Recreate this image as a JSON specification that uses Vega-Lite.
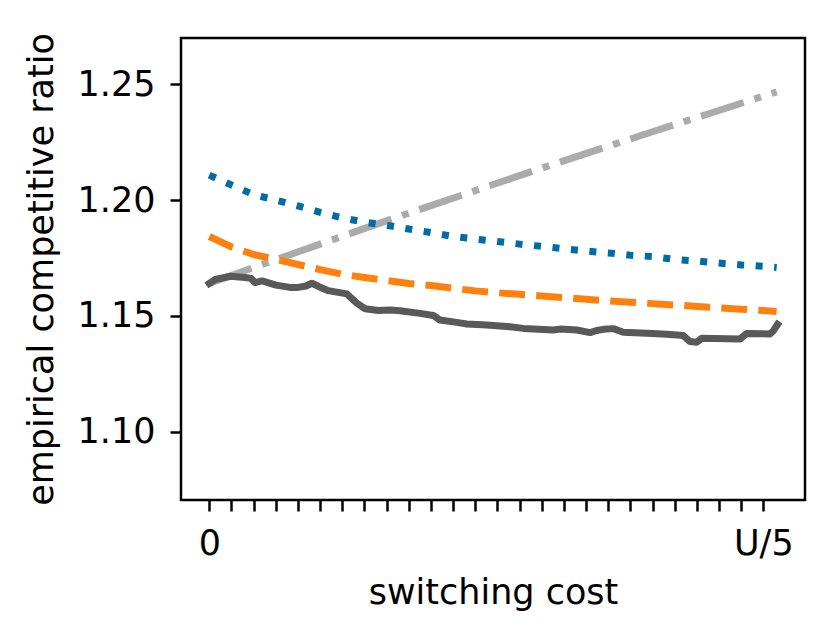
{
  "$schema": "https://vega.github.io/schema/vega-lite/v6.json",
  "width": 624,
  "height": 462,
  "autosize": {"type": "none"},
  "padding": {"left": 181, "top": 38, "right": 27, "bottom": 137},
  "background": "white",
  "config": {
    "view": {"stroke": "black", "strokeWidth": 2.5},
    "font": "DejaVu Sans",
    "axis": {
      "labelFont": "DejaVu Sans",
      "titleFont": "DejaVu Sans",
      "labelFontSize": 35,
      "titleFontSize": 35,
      "titleFontWeight": "normal",
      "labelColor": "black",
      "titleColor": "black",
      "tickColor": "black",
      "tickWidth": 2.5,
      "tickSize": 11,
      "labelPadding": 15,
      "domain": false,
      "grid": false
    }
  },
  "datasets": {
    "lines": [
      {"series": "gray", "x": 0, "y": 1.1640},
      {"series": "gray", "x": 2.5, "y": 1.1726},
      {"series": "gray", "x": 5, "y": 1.1810},
      {"series": "gray", "x": 7.5, "y": 1.1894},
      {"series": "gray", "x": 10, "y": 1.1976},
      {"series": "gray", "x": 12.5, "y": 1.2057},
      {"series": "gray", "x": 15, "y": 1.2138},
      {"series": "gray", "x": 17.5, "y": 1.2217},
      {"series": "gray", "x": 20, "y": 1.2295},
      {"series": "gray", "x": 22.5, "y": 1.2372},
      {"series": "gray", "x": 25, "y": 1.2449},
      {"series": "gray", "x": 25.6, "y": 1.2467},

      {"series": "blue", "x": 0, "y": 1.2108},
      {"series": "blue", "x": 1, "y": 1.2065},
      {"series": "blue", "x": 2, "y": 1.2024},
      {"series": "blue", "x": 3, "y": 1.2000},
      {"series": "blue", "x": 4, "y": 1.1975},
      {"series": "blue", "x": 5, "y": 1.1947},
      {"series": "blue", "x": 6, "y": 1.1923},
      {"series": "blue", "x": 7, "y": 1.1905},
      {"series": "blue", "x": 8, "y": 1.1891},
      {"series": "blue", "x": 9, "y": 1.1875},
      {"series": "blue", "x": 10, "y": 1.1860},
      {"series": "blue", "x": 11, "y": 1.1843},
      {"series": "blue", "x": 12, "y": 1.1832},
      {"series": "blue", "x": 13, "y": 1.1821},
      {"series": "blue", "x": 14, "y": 1.1810},
      {"series": "blue", "x": 15, "y": 1.1800},
      {"series": "blue", "x": 16, "y": 1.1790},
      {"series": "blue", "x": 17, "y": 1.1780},
      {"series": "blue", "x": 18, "y": 1.1772},
      {"series": "blue", "x": 19, "y": 1.1762},
      {"series": "blue", "x": 20, "y": 1.1756},
      {"series": "blue", "x": 21, "y": 1.1744},
      {"series": "blue", "x": 22, "y": 1.1737},
      {"series": "blue", "x": 23, "y": 1.1728},
      {"series": "blue", "x": 24, "y": 1.1720},
      {"series": "blue", "x": 25, "y": 1.1714},
      {"series": "blue", "x": 25.6, "y": 1.1709},

      {"series": "orange", "x": 0, "y": 1.1843},
      {"series": "orange", "x": 1, "y": 1.1798},
      {"series": "orange", "x": 2, "y": 1.1765},
      {"series": "orange", "x": 3, "y": 1.1744},
      {"series": "orange", "x": 4, "y": 1.1722},
      {"series": "orange", "x": 5, "y": 1.1700},
      {"series": "orange", "x": 6, "y": 1.1680},
      {"series": "orange", "x": 7, "y": 1.1666},
      {"series": "orange", "x": 8, "y": 1.1653},
      {"series": "orange", "x": 9, "y": 1.1640},
      {"series": "orange", "x": 10, "y": 1.1631},
      {"series": "orange", "x": 11, "y": 1.1619},
      {"series": "orange", "x": 12, "y": 1.1608},
      {"series": "orange", "x": 13, "y": 1.1600},
      {"series": "orange", "x": 14, "y": 1.1593},
      {"series": "orange", "x": 15, "y": 1.1586},
      {"series": "orange", "x": 16, "y": 1.1579},
      {"series": "orange", "x": 17, "y": 1.1572},
      {"series": "orange", "x": 18, "y": 1.1565},
      {"series": "orange", "x": 19, "y": 1.1559},
      {"series": "orange", "x": 20, "y": 1.1553},
      {"series": "orange", "x": 21, "y": 1.1547},
      {"series": "orange", "x": 22, "y": 1.1541},
      {"series": "orange", "x": 23, "y": 1.1535},
      {"series": "orange", "x": 24, "y": 1.1529},
      {"series": "orange", "x": 25, "y": 1.1523},
      {"series": "orange", "x": 25.6, "y": 1.1519},

      {"series": "dark", "x": 0, "y": 1.1640},
      {"series": "dark", "x": 0.26, "y": 1.1657},
      {"series": "dark", "x": 0.96, "y": 1.1671},
      {"series": "dark", "x": 1.61, "y": 1.1666},
      {"series": "dark", "x": 1.88, "y": 1.1662},
      {"series": "dark", "x": 2.06, "y": 1.1644},
      {"series": "dark", "x": 2.38, "y": 1.1651},
      {"series": "dark", "x": 3.01, "y": 1.1633},
      {"series": "dark", "x": 3.64, "y": 1.1623},
      {"series": "dark", "x": 4.0, "y": 1.1623},
      {"series": "dark", "x": 4.36, "y": 1.1629},
      {"series": "dark", "x": 4.63, "y": 1.1641},
      {"series": "dark", "x": 4.95, "y": 1.1626},
      {"series": "dark", "x": 5.37, "y": 1.1609},
      {"series": "dark", "x": 6.2, "y": 1.1595},
      {"series": "dark", "x": 6.67, "y": 1.1554},
      {"series": "dark", "x": 7.03, "y": 1.1531},
      {"series": "dark", "x": 7.63, "y": 1.1523},
      {"series": "dark", "x": 8.15, "y": 1.1525},
      {"series": "dark", "x": 8.61, "y": 1.1522},
      {"series": "dark", "x": 9.51, "y": 1.1511},
      {"series": "dark", "x": 10.11, "y": 1.1502},
      {"series": "dark", "x": 10.41, "y": 1.1482},
      {"series": "dark", "x": 11.16, "y": 1.1472},
      {"series": "dark", "x": 11.62, "y": 1.1465},
      {"series": "dark", "x": 12.52, "y": 1.1461},
      {"series": "dark", "x": 13.57, "y": 1.1453},
      {"series": "dark", "x": 14.17, "y": 1.1446},
      {"series": "dark", "x": 15.52, "y": 1.1439},
      {"series": "dark", "x": 15.83, "y": 1.1443},
      {"series": "dark", "x": 16.58, "y": 1.1439},
      {"series": "dark", "x": 17.18, "y": 1.1428},
      {"series": "dark", "x": 17.48, "y": 1.1437},
      {"series": "dark", "x": 17.78, "y": 1.1442},
      {"series": "dark", "x": 18.23, "y": 1.1445},
      {"series": "dark", "x": 18.68, "y": 1.1429},
      {"series": "dark", "x": 19.74, "y": 1.1425},
      {"series": "dark", "x": 20.64, "y": 1.1421},
      {"series": "dark", "x": 21.39, "y": 1.1415},
      {"series": "dark", "x": 21.69, "y": 1.1389},
      {"series": "dark", "x": 21.99, "y": 1.1386},
      {"series": "dark", "x": 22.22, "y": 1.1403},
      {"series": "dark", "x": 23.95, "y": 1.1400},
      {"series": "dark", "x": 24.25, "y": 1.1424},
      {"series": "dark", "x": 25.3, "y": 1.1422},
      {"series": "dark", "x": 25.45, "y": 1.1435},
      {"series": "dark", "x": 25.64, "y": 1.1463}
    ]
  },
  "data": {"name": "lines"},
  "encoding": {
    "x": {
      "field": "x",
      "type": "quantitative",
      "scale": {"domain": [-1.277, 26.88], "nice": false, "zero": false},
      "axis": {
        "title": "switching cost",
        "values": [0,1,2,3,4,5,6,7,8,9,10,11,12,13,14,15,16,17,18,19,20,21,22,23,24,25],
        "labelExpr": "datum.value == 0 ? '0' : (datum.value == 25 ? 'U/5' : '')",
        "labelFlush": false,
        "labelOverlap": false,
        "titleBaseline": "alphabetic",
        "titleY": 103
      }
    },
    "y": {
      "field": "y",
      "type": "quantitative",
      "scale": {"domain": [1.0705, 1.2700], "nice": false, "zero": false},
      "axis": {
        "title": "empirical competitive ratio",
        "values": [1.10, 1.15, 1.20, 1.25],
        "format": ".2f",
        "labelFlush": false,
        "labelOverlap": false,
        "titleBaseline": "alphabetic",
        "titleX": -129
      }
    }
  },
  "layer": [
    {
      "transform": [{"filter": "datum.series == 'gray'"}],
      "mark": {"type": "line", "color": "#ABABAB", "strokeWidth": 7, "strokeCap": "butt", "strokeJoin": "round", "strokeDash": [44.8, 11.2, 7, 11.2], "clip": true}
    },
    {
      "transform": [{"filter": "datum.series == 'blue'"}],
      "mark": {"type": "line", "color": "#006BA4", "strokeWidth": 7, "strokeCap": "butt", "strokeJoin": "round", "strokeDash": [7, 11.55], "clip": true}
    },
    {
      "transform": [{"filter": "datum.series == 'orange'"}],
      "mark": {"type": "line", "color": "#FF800E", "strokeWidth": 7, "strokeCap": "butt", "strokeJoin": "round", "strokeDash": [25.9, 11.2], "clip": true}
    },
    {
      "transform": [{"filter": "datum.series == 'dark'"}],
      "mark": {"type": "line", "color": "#595959", "strokeWidth": 7, "strokeCap": "square", "strokeJoin": "round", "clip": true}
    }
  ]
}
